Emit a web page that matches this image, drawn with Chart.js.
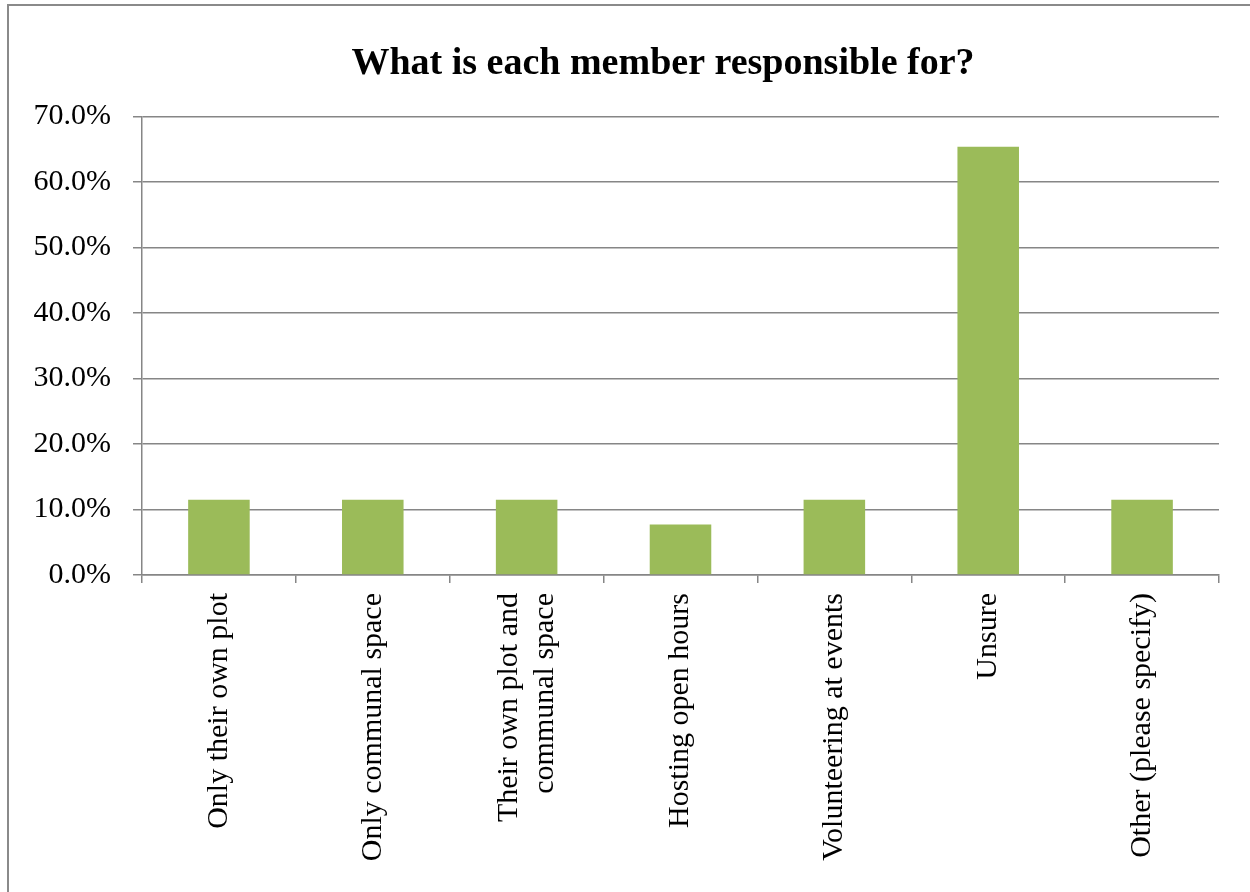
<!DOCTYPE html>
<html>
<head>
<meta charset="utf-8">
<script src="https://cdn.jsdelivr.net/npm/chart.js@4"></script>
<style>
  html, body { margin: 0; padding: 0; background: #fff; overflow: hidden; }
  #frame { position: absolute; left: 7px; top: 4px; width: 1400px; height: 1000px; border: 2px solid #8a8a8a; }
  #chart { position: absolute; left: 0; top: 0; }
</style>
</head>
<body>
<div id="frame"></div>
<canvas id="chart" width="1250" height="892"></canvas>
<script>
// categorias y valores (porcentaje de respuestas)
const categories = [
  "Only their own plot",
  "Only communal space",
  ["Their own plot and", "communal space"],
  "Hosting open hours",
  "Volunteering at events",
  "Unsure",
  "Other (please specify)"
];
const values = [11.5, 11.5, 11.5, 7.7, 11.5, 65.4, 11.5];
const yTicks = [0, 10, 20, 30, 40, 50, 60, 70];

const serif = "'Liberation Serif', 'Times New Roman', serif";
const gridGray = "#868686";
const labelLineHeight = 36;

// el eje y se deja sin recorte a la izquierda y las etiquetas de varias lineas se centran
const fixAxes = {
  id: "fixAxes",
  afterLayout(chart) {
    chart.scales.y.left = 0;
  },
  beforeDraw(chart) {
    const items = chart.scales.x.getLabelItems(chart.chartArea);
    items.forEach(it => {
      if (Array.isArray(it.label)) {
        it.options.translation[0] -= (it.label.length - 1) * labelLineHeight / 2;
      }
    });
  }
};

new Chart(document.getElementById("chart"), {
  type: "bar",
  data: {
    labels: categories,
    datasets: [{
      data: values,
      backgroundColor: "#9BBB59",
      borderWidth: 0,
      barPercentage: 0.4,
      categoryPercentage: 1.0
    }]
  },
  options: {
    responsive: false,
    animation: false,
    layout: { padding: { left: 107, right: 31, top: 0, bottom: 0 } },
    plugins: {
      legend: { display: false },
      tooltip: { enabled: false },
      title: {
        display: true,
        text: "What is each member responsible for?",
        color: "#000",
        font: { family: serif, size: 38, weight: "bold", lineHeight: 1.2 },
        padding: { top: 41, bottom: 30 }
      }
    },
    scales: {
      x: {
        offset: true,
        grid: { display: true, drawOnChartArea: false, offset: true, color: gridGray, lineWidth: 1.5, tickLength: 8 },
        border: { color: gridGray, width: 1.5 },
        ticks: {
          autoSkip: false,
          minRotation: 90,
          maxRotation: 90,
          padding: 10,
          color: "#000",
          font: { family: serif, size: 30, lineHeight: 1.2 }
        },
        afterFit: s => { s.height = 317; }
      },
      y: {
        min: 0,
        max: 70,
        afterBuildTicks: s => { s.ticks = yTicks.map(v => ({ value: v })); },
        grid: { color: gridGray, lineWidth: 1.5, tickLength: 9 },
        border: { color: gridGray, width: 1.5 },
        ticks: {
          padding: 22,
          color: "#000",
          font: { family: serif, size: 30 },
          callback: v => v.toFixed(1) + "%"
        },
        afterFit: s => { s.width = 35; }
      }
    }
  },
  plugins: [fixAxes]
});
</script>
</body>
</html>
